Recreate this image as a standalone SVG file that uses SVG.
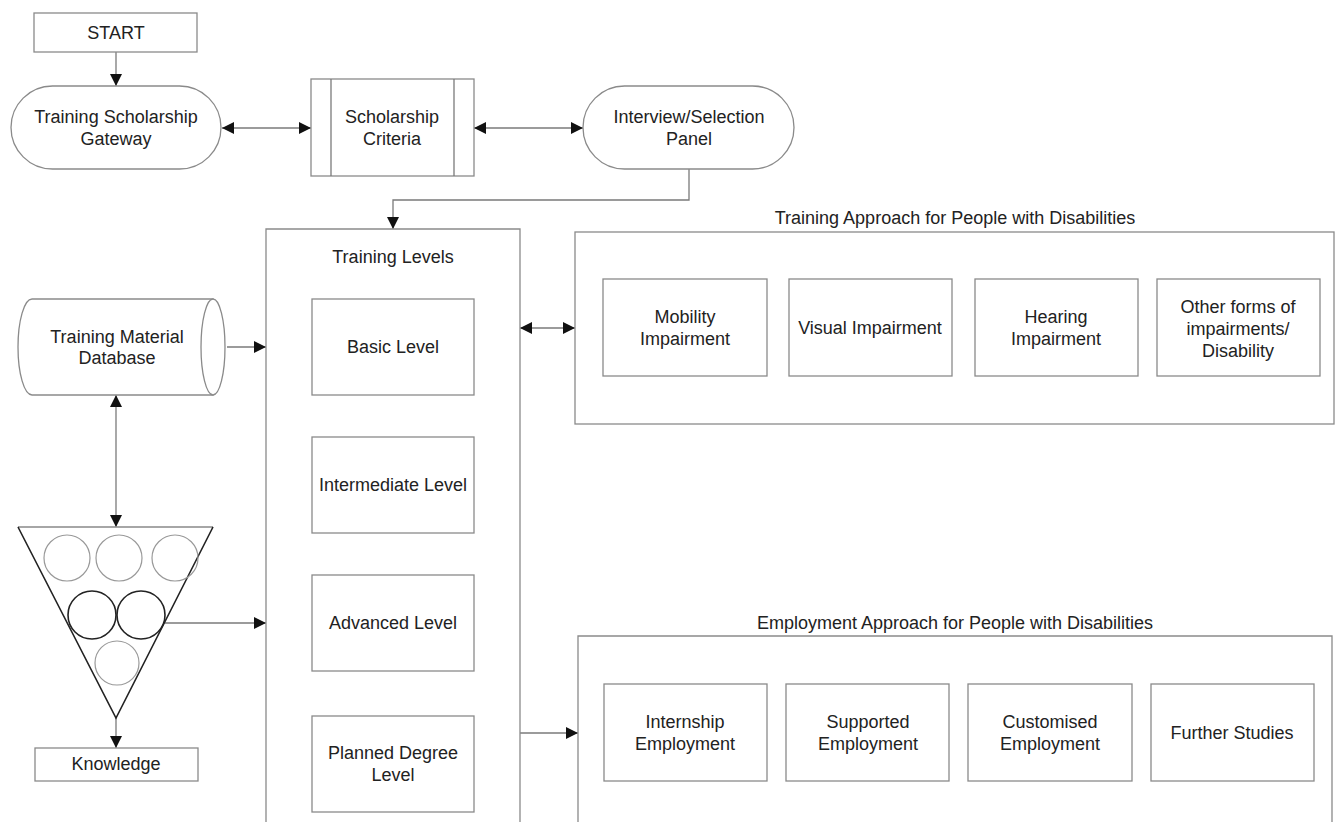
<svg xmlns="http://www.w3.org/2000/svg" width="1336" height="822" viewBox="0 0 1336 822">
<defs>
<style>
.box{fill:#fff;stroke:#8a8a8a;stroke-width:1.3}
.ln{fill:none;stroke:#7a7a7a;stroke-width:1.3}
.t{font-family:"Liberation Sans",Arial,sans-serif;font-size:18px;fill:#222;text-anchor:middle}
.c1{fill:none;stroke:#999;stroke-width:1.2}
.c2{fill:none;stroke:#222;stroke-width:1.6}
</style>
<marker id="ah" viewBox="0 0 10 10" markerWidth="12" markerHeight="12" markerUnits="userSpaceOnUse" refX="10" refY="5" orient="auto-start-reverse">
<path d="M0,0 L10,5 L0,10 z" fill="#111"/>
</marker>
</defs>
<rect width="1336" height="822" fill="#fff"/>

<g id="connectors">
<line class="ln" x1="116" y1="52" x2="116" y2="86" marker-end="url(#ah)"/>
<line class="ln" x1="222" y1="128" x2="311" y2="128" marker-start="url(#ah)" marker-end="url(#ah)"/>
<line class="ln" x1="474" y1="128" x2="583" y2="128" marker-start="url(#ah)" marker-end="url(#ah)"/>
<polyline class="ln" points="689,169 689,200 393,200 393,229" marker-end="url(#ah)"/>
<line class="ln" x1="227" y1="347" x2="266" y2="347" marker-end="url(#ah)"/>
<line class="ln" x1="116" y1="395" x2="116" y2="527" marker-start="url(#ah)" marker-end="url(#ah)"/>
<line class="ln" x1="165" y1="623" x2="266" y2="623" marker-end="url(#ah)"/>
<line class="ln" x1="116" y1="718" x2="116" y2="748" marker-end="url(#ah)"/>
<line class="ln" x1="520" y1="328" x2="575" y2="328" marker-start="url(#ah)" marker-end="url(#ah)"/>
<line class="ln" x1="520" y1="733" x2="578" y2="733" marker-end="url(#ah)"/>
<line class="ln" x1="393" y1="395" x2="393" y2="437" marker-end="url(#ah)"/>
<line class="ln" x1="393" y1="533" x2="393" y2="575" marker-end="url(#ah)"/>
<line class="ln" x1="393" y1="671" x2="393" y2="716" marker-end="url(#ah)"/>
</g>

<g id="start">
<rect class="box" x="34" y="13" width="163" height="39"/>
<text class="t" x="116" y="39">START</text>
</g>

<g id="gateway">
<rect class="box" x="11" y="86" width="210" height="83" rx="41.5" ry="41.5"/>
<text class="t" x="116" y="123">Training Scholarship</text>
<text class="t" x="116" y="145">Gateway</text>
</g>

<g id="criteria">
<rect class="box" x="311" y="79" width="163" height="97"/>
<line class="ln" x1="331" y1="79" x2="331" y2="176"/>
<line class="ln" x1="454" y1="79" x2="454" y2="176"/>
<text class="t" x="392" y="123">Scholarship</text>
<text class="t" x="392" y="145">Criteria</text>
</g>

<g id="panel">
<rect class="box" x="583" y="86" width="211" height="83" rx="41.5" ry="41.5"/>
<text class="t" x="689" y="123">Interview/Selection</text>
<text class="t" x="689" y="145">Panel</text>
</g>

<g id="database">
<path class="box" d="M32,299 L213,299 L213,395 L32,395 A14,48 0 0 1 32,299 Z"/>
<ellipse class="box" cx="213" cy="347" rx="12" ry="48"/>
<text class="t" x="117" y="343">Training Material</text>
<text class="t" x="117" y="364">Database</text>
</g>

<g id="knowledge-funnel">
<path d="M18,527 L213,527" stroke="#888" stroke-width="1.5" fill="none"/>
<path d="M18,527 L116,718 L213,527" stroke="#222" stroke-width="1.6" fill="none"/>
<circle class="c1" cx="67" cy="558" r="23"/>
<circle class="c1" cx="119" cy="558" r="23"/>
<circle class="c1" cx="175" cy="558" r="23"/>
<circle class="c2" cx="92" cy="615" r="24"/>
<circle class="c2" cx="141" cy="615" r="24"/>
<circle class="c1" cx="117" cy="663" r="22"/>
</g>

<g id="knowledge">
<rect class="box" x="35" y="748" width="163" height="33"/>
<text class="t" x="116" y="770">Knowledge</text>
</g>

<g id="training-levels">
<path class="box" d="M266,823 L266,229 L520,229 L520,823"/>
<text class="t" x="393" y="263">Training Levels</text>
</g>

<g id="basic">
<rect class="box" x="312" y="299" width="162" height="96"/>
<text class="t" x="393" y="353">Basic Level</text>
</g>
<g id="intermediate">
<rect class="box" x="312" y="437" width="162" height="96"/>
<text class="t" x="393" y="491">Intermediate Level</text>
</g>
<g id="advanced">
<rect class="box" x="312" y="575" width="162" height="96"/>
<text class="t" x="393" y="629">Advanced Level</text>
</g>
<g id="planned">
<rect class="box" x="312" y="716" width="162" height="96"/>
<text class="t" x="393" y="759">Planned Degree</text>
<text class="t" x="393" y="781">Level</text>
</g>

<g id="training-approach">
<text class="t" x="955" y="224">Training Approach for People with Disabilities</text>
<rect class="box" x="575" y="232" width="759" height="192"/>
</g>
<g id="mobility">
<rect class="box" x="603" y="279" width="164" height="97"/>
<text class="t" x="685" y="323">Mobility</text>
<text class="t" x="685" y="345">Impairment</text>
</g>
<g id="visual">
<rect class="box" x="789" y="279" width="163" height="97"/>
<text class="t" x="870" y="334">Visual Impairment</text>
</g>
<g id="hearing">
<rect class="box" x="975" y="279" width="163" height="97"/>
<text class="t" x="1056" y="323">Hearing</text>
<text class="t" x="1056" y="345">Impairment</text>
</g>
<g id="other">
<rect class="box" x="1157" y="279" width="163" height="97"/>
<text class="t" x="1238" y="313">Other forms of</text>
<text class="t" x="1238" y="335">impairments/</text>
<text class="t" x="1238" y="357">Disability</text>
</g>

<g id="employment-approach">
<text class="t" x="955" y="629">Employment Approach for People with Disabilities</text>
<path class="box" d="M578,823 L578,636 L1332,636 L1332,823"/>
</g>
<g id="internship">
<rect class="box" x="604" y="684" width="163" height="97"/>
<text class="t" x="685" y="728">Internship</text>
<text class="t" x="685" y="750">Employment</text>
</g>
<g id="supported">
<rect class="box" x="786" y="684" width="163" height="97"/>
<text class="t" x="868" y="728">Supported</text>
<text class="t" x="868" y="750">Employment</text>
</g>
<g id="customised">
<rect class="box" x="968" y="684" width="164" height="97"/>
<text class="t" x="1050" y="728">Customised</text>
<text class="t" x="1050" y="750">Employment</text>
</g>
<g id="further">
<rect class="box" x="1151" y="684" width="163" height="97"/>
<text class="t" x="1232" y="739">Further Studies</text>
</g>
</svg>
